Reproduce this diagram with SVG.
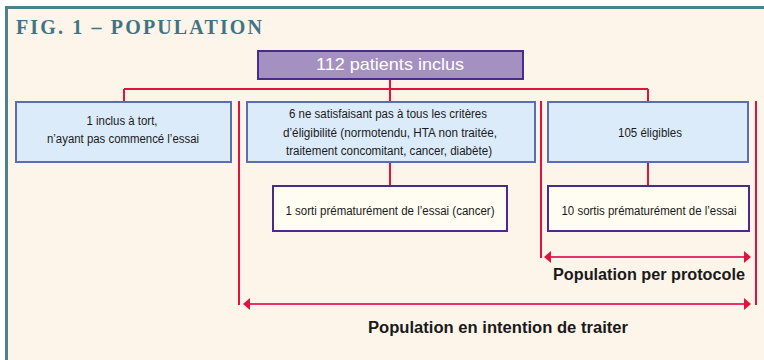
<svg xmlns="http://www.w3.org/2000/svg" width="764" height="360" viewBox="0 0 764 360">
<style>
.bg{fill:#fdf4ea}
.frame{fill:none;stroke:#4e818e;stroke-width:3}
.title{font-family:"Liberation Serif","DejaVu Serif",serif;font-weight:bold;font-size:20px;fill:#3f7482}
.blue{fill:#dcebfa;stroke:#5a6fb0;stroke-width:2}
.cream{fill:#fffdf2;stroke:#4b2a8a;stroke-width:2}
.top{fill:#a491c2;stroke:#4b2a8a;stroke-width:2}
.t{font-family:"Liberation Sans","DejaVu Sans",sans-serif;font-size:12.5px;fill:#1a1a1a;text-anchor:middle}
.tw{font-family:"Liberation Sans","DejaVu Sans",sans-serif;font-size:17px;fill:#ffffff;text-anchor:middle}
.lab{font-family:"Liberation Sans","DejaVu Sans",sans-serif;font-size:16px;font-weight:bold;fill:#1a1a1a;text-anchor:middle}
.ln{stroke:#e2123f;stroke-width:2;fill:none}
.ar{stroke:#e8306a;stroke-width:2;fill:none}
.ah{fill:#e2123f}
</style>
<rect x="0" y="0" width="764" height="360" fill="#ffffff"/>
<rect class="bg" x="6" y="8" width="758" height="352"/>
<path class="frame" d="M6.5,360 V7.5 H764"/>
<text class="title" x="16" y="34" textLength="246" lengthAdjust="spacing">FIG. 1 – POPULATION</text>

<g id="connectors">
<path class="ln" d="M390,79 V89 M124,89 H648 M124,89 V101 M390,89 V101 M648,89 V101 M390,162 V186 M648,162 V186"/>
<path class="ln" d="M239,101 V305 M541,101 V258 M756,101 V305"/>
<path class="ar" d="M550,257 H745"/>
<polygon class="ah" points="544,257 551,251 551,263"/>
<polygon class="ah" points="751,257 744,251 744,263"/>
<path class="ar" d="M249,304 H745"/>
<polygon class="ah" points="243,304 250,298 250,310"/>
<polygon class="ah" points="751,304 744,298 744,310"/>
</g>

<g id="n112">
<rect class="top" x="258" y="51" width="265" height="28"/>
<text class="tw" x="390" y="70" textLength="148" lengthAdjust="spacingAndGlyphs">112 patients inclus</text>
</g>
<g id="n1">
<rect class="blue" x="16" y="102" width="215" height="60"/>
<text class="t" x="122" y="125" textLength="71" lengthAdjust="spacingAndGlyphs">1 inclus à tort,</text>
<text class="t" x="123" y="143" textLength="152" lengthAdjust="spacingAndGlyphs">n’ayant pas commencé l’essai</text>
</g>
<g id="n6">
<rect class="blue" x="247" y="102" width="288" height="60"/>
<text class="t" x="388" y="118" textLength="198" lengthAdjust="spacingAndGlyphs">6 ne satisfaisant pas à tous les critères</text>
<text class="t" x="390" y="137" textLength="214" lengthAdjust="spacingAndGlyphs">d’éligibilité (normotendu, HTA non traitée,</text>
<text class="t" x="389" y="155" textLength="206" lengthAdjust="spacingAndGlyphs">traitement concomitant, cancer, diabète)</text>
</g>
<g id="n105">
<rect class="blue" x="548" y="102" width="200" height="60"/>
<text class="t" x="650" y="137" textLength="64" lengthAdjust="spacingAndGlyphs">105 éligibles</text>
</g>
<g id="n1sorti">
<rect class="cream" x="273" y="186" width="234" height="45"/>
<text class="t" x="390" y="215" textLength="209" lengthAdjust="spacingAndGlyphs">1 sorti prématurément de l’essai (cancer)</text>
</g>
<g id="n10sortis">
<rect class="cream" x="548" y="186" width="201" height="45"/>
<text class="t" x="649" y="215" textLength="175" lengthAdjust="spacingAndGlyphs">10 sortis prématurément de l’essai</text>
</g>
<g id="lab-pp">
<text class="lab" x="649" y="280" textLength="192" lengthAdjust="spacingAndGlyphs">Population per protocole</text>
</g>
<g id="lab-itt">
<text class="lab" x="498" y="333" textLength="260" lengthAdjust="spacingAndGlyphs">Population en intention de traiter</text>
</g>
</svg>
